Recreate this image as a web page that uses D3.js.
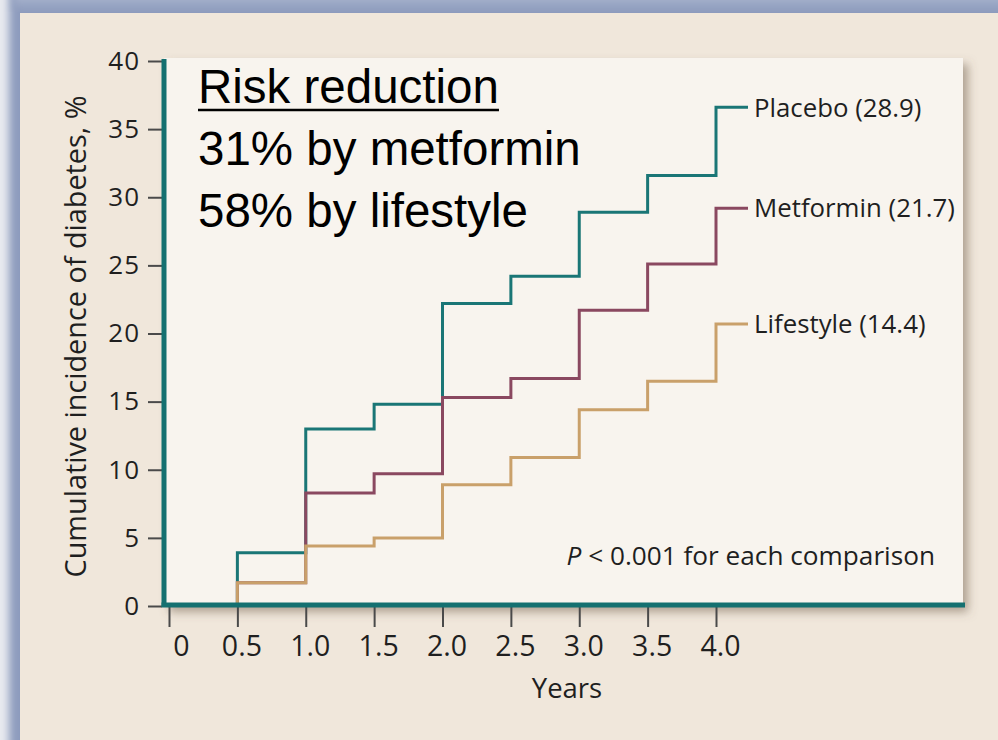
<!DOCTYPE html>
<html>
<head>
<meta charset="utf-8">
<script src="https://cdn.jsdelivr.net/npm/d3@7"></script>
<style>
  html, body { margin: 0; padding: 0; background: #f0e7db; }
  svg { display: block; }
</style>
</head>
<body>
<svg id="chart" width="998" height="740"></svg>
<script>
// Cumulative incidence of diabetes (%) by treatment group, stepped at each half-year visit
const stepYears = [0.5, 1.0, 1.5, 2.0, 2.5, 3.0, 3.5, 4.0];
const placeboLevels   = [3.9, 13.0, 14.8, 22.2, 24.2, 28.9, 31.6, 36.6];
const metforminLevels = [1.7, 8.3, 9.7, 15.3, 16.7, 21.7, 25.1, 29.2];
const lifestyleLevels = [1.7, 4.4, 5.0, 8.9, 10.9, 14.4, 16.5, 20.7];

const seriesNames = ["Placebo", "Metformin", "Lifestyle"];
const seriesRates = ["28.9", "21.7", "14.4"];   // cases per 100 person-years
const seriesColors = ["#1a7676", "#8a4860", "#c9a06a"];

const xTicks = [0, 0.5, 1.0, 1.5, 2.0, 2.5, 3.0, 3.5, 4.0];
const xTickLabels = ["0", "0.5", "1.0", "1.5", "2.0", "2.5", "3.0", "3.5", "4.0"];
const yTicks = [0, 5, 10, 15, 20, 25, 30, 35, 40];

const noteLines = ["Risk reduction", "31% by metformin", "58% by lifestyle"];

const svg = d3.select("#chart");
const W = 998, H = 740;

const x = d3.scaleLinear().domain([0, 4]).range([169, 716]);
const y = d3.scaleLinear().domain([0, 40]).range([606, 61]);

const axisTeal = "#147070";
const tickGrey = "#4a4a4a";
const textDark = "#1f1f1f";
const chartFont = "'Open Sans', 'Noto Sans', sans-serif";

const defs = svg.append("defs");
const frameBlur = defs.append("filter").attr("id", "frameBlur")
  .attr("x", "-5%").attr("y", "-5%").attr("width", "110%").attr("height", "110%");
frameBlur.append("feGaussianBlur").attr("stdDeviation", 4);

const panelShadow = defs.append("filter").attr("id", "panelShadow")
  .attr("x", "-5%").attr("y", "-5%").attr("width", "115%").attr("height", "115%");
panelShadow.append("feDropShadow")
  .attr("dx", 5).attr("dy", 6).attr("stdDeviation", 5)
  .attr("flood-color", "#6b5a45").attr("flood-opacity", 0.5);

const topGrad = defs.append("linearGradient").attr("id", "topGrad")
  .attr("x1", 0).attr("x2", 0).attr("y1", 0).attr("y2", 1);
topGrad.append("stop").attr("offset", "0%").attr("stop-color", "#c7cfe0");
topGrad.append("stop").attr("offset", "100%").attr("stop-color", "#8e9cbd");

// Frame: pale outer edge, blue-grey glow, beige page
svg.append("rect").attr("x", 0).attr("y", 0).attr("width", W).attr("height", H)
  .attr("fill", "#e9ebf0");
svg.append("rect").attr("x", 9).attr("y", -20).attr("width", W + 40).attr("height", H + 40)
  .attr("fill", "#8d9bbd").attr("filter", "url(#frameBlur)");
svg.append("rect").attr("x", 14).attr("y", -20).attr("width", W + 40).attr("height", 30)
  .attr("fill", "url(#topGrad)").attr("filter", "url(#frameBlur)");
svg.append("rect").attr("x", 20).attr("y", 13).attr("width", W).attr("height", H)
  .attr("fill", "#f0e7db");

// Plot panel
svg.append("rect")
  .attr("x", x(0) - 5).attr("y", y(40) - 3)
  .attr("width", 963 - (x(0) - 5)).attr("height", y(0) - (y(40) - 3))
  .attr("fill", "#f8f4ee")
  .attr("filter", "url(#panelShadow)");

// Stepped cumulative-incidence curves
const seriesLevels = [placeboLevels, metforminLevels, lifestyleLevels];
const tail = 32;
const stepLine = d3.line().curve(d3.curveStepAfter);

seriesLevels.forEach((levels, i) => {
  const pts = [[x(stepYears[0]), y(0)]];
  levels.forEach((v, j) => pts.push([x(stepYears[j]), y(v)]));
  const last = levels[levels.length - 1];
  pts.push([x(stepYears[stepYears.length - 1]) + tail, y(last)]);
  svg.append("path")
    .attr("d", stepLine(pts))
    .attr("fill", "none")
    .attr("stroke", seriesColors[i])
    .attr("stroke-width", 3)
    .attr("stroke-linejoin", "miter");
  svg.append("text")
    .attr("x", x(stepYears[stepYears.length - 1]) + tail + 6)
    .attr("y", y(last))
    .attr("dy", "0.36em")
    .attr("font-family", chartFont)
    .attr("font-size", 25.8)
    .attr("fill", textDark)
    .text(`${seriesNames[i]} (${seriesRates[i]})`);
});

// Y axis ticks and labels
const yAxisX = x(0) - 5;
const yAxis = svg.append("g")
  .attr("transform", `translate(${yAxisX - 2},0)`)
  .call(d3.axisLeft(y).tickValues(yTicks).tickSize(14).tickPadding(8).tickFormat(d3.format("d")));
yAxis.select(".domain").remove();
yAxis.selectAll(".tick line").attr("stroke", tickGrey).attr("stroke-width", 2);
yAxis.selectAll(".tick text")
  .attr("font-family", chartFont).attr("font-size", 26)
  .attr("letter-spacing", 1)
  .attr("fill", textDark);

// X axis ticks and labels
const xAxisY = y(0);
const xAxis = svg.append("g")
  .attr("transform", `translate(0,${xAxisY + 1})`)
  .call(d3.axisBottom(x).tickValues(xTicks).tickSize(20)
    .tickFormat((d, i) => xTickLabels[i]));
xAxis.select(".domain").remove();
xAxis.selectAll(".tick line").attr("stroke", tickGrey).attr("stroke-width", 2);
xAxis.selectAll(".tick text")
  .attr("font-family", chartFont).attr("font-size", 28.5)
  .attr("fill", textDark)
  .attr("y", 49).attr("dy", 0)
  .attr("dx", (d, i) => i === 0 ? 12 : 4);

// Teal axis lines
svg.append("line")
  .attr("x1", yAxisX).attr("x2", yAxisX)
  .attr("y1", y(40) - 2).attr("y2", y(0) + 1)
  .attr("stroke", axisTeal).attr("stroke-width", 5);
svg.append("line")
  .attr("x1", yAxisX - 2.5).attr("x2", 965)
  .attr("y1", y(0) - 1).attr("y2", y(0) - 1)
  .attr("stroke", axisTeal).attr("stroke-width", 5);

// Axis titles
svg.append("text")
  .attr("x", 567).attr("y", 698)
  .attr("text-anchor", "middle")
  .attr("font-family", chartFont).attr("font-size", 27.5)
  .attr("fill", textDark)
  .text("Years");

svg.append("text")
  .attr("transform", `translate(86,${y(20) + 3}) rotate(-90)`)
  .attr("text-anchor", "middle")
  .attr("font-family", chartFont).attr("font-size", 28.8)
  .attr("fill", textDark)
  .text("Cumulative incidence of diabetes, %");

// Significance note
const pNote = svg.append("text")
  .attr("x", 935).attr("y", 565)
  .attr("text-anchor", "end")
  .attr("font-family", chartFont).attr("font-size", 26.2)
  .attr("fill", textDark);
pNote.append("tspan").attr("font-style", "italic").text("P");
pNote.append("tspan").text(" < 0.001 for each comparison");

// Risk reduction annotation
const noteFont = "'Liberation Sans', Arial, sans-serif";
const baselines = [103, 165, 227];
noteLines.forEach((t, i) => {
  const el = svg.append("text")
    .attr("x", 198).attr("y", baselines[i])
    .attr("font-family", noteFont).attr("font-size", 47.5)
    .attr("fill", "#000")
    .text(t);
  if (i === 0) {
    const w = el.node().getComputedTextLength();
    svg.append("line")
      .attr("x1", 198).attr("x2", 198 + w)
      .attr("y1", baselines[i] + 7).attr("y2", baselines[i] + 7)
      .attr("stroke", "#000").attr("stroke-width", 2.5);
  }
});
</script>
</body>
</html>
